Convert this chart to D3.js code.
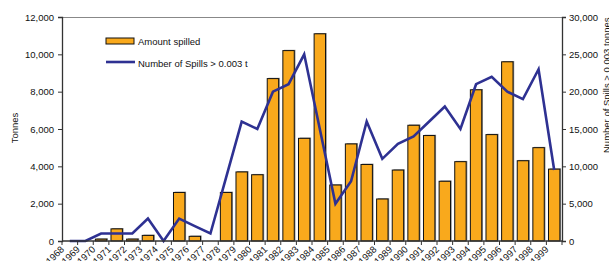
<!DOCTYPE html>
<html>
<head>
<meta charset="utf-8">
<script src="https://cdn.jsdelivr.net/npm/d3@7"></script>
<style>
	body { margin: 0; background: #fff; }
	text { font-family: "Liberation Sans", Arial, sans-serif; font-size: 9.5px; fill: #111; }
</style>
</head>
<body>
<svg id="chart" width="609" height="261"></svg>
<script>
// years on the x axis
var years = [1968, 1969, 1970, 1971, 1972, 1973, 1974, 1975, 1976, 1977,
	1978, 1979, 1980, 1981, 1982, 1983, 1984, 1985, 1986, 1987,
	1988, 1989, 1990, 1991, 1992, 1993, 1994, 1995, 1996, 1997,
	1998, 1999];

// tonnes spilled (left axis)
var amountSpilled = [0, 0, 100, 650, 100, 300, 0, 2600, 250, 0,
	2600, 3700, 3550, 8700, 10200, 5500, 11100, 3000, 5200, 4100,
	2250, 3800, 6200, 5650, 3200, 4250, 8100, 5700, 9600, 4300,
	5000, 3850];

// number of spills > 0.003 t (right axis)
var spillCount = [0, 0, 1000, 1000, 1000, 3000, 0, 3000, 2000, 1000,
	8500, 16000, 15000, 20000, 21000, 25000, 15000, 5000, 8000, 16000,
	11000, 13000, 14000, 16000, 18000, 15000, 21000, 22000, 20000, 19000,
	23000, 9500];

var leftTicks = [0, 2000, 4000, 6000, 8000, 10000, 12000];
var rightTicks = [0, 5000, 10000, 15000, 20000, 25000, 30000];

var svg = d3.select('#chart'),
	plotLeft = 62, plotRight = 562, plotTop = 17, plotBottom = 241;

var x = d3.scaleBand()
	.domain(years)
	.range([plotLeft, plotRight])
	.paddingInner(0.27)
	.paddingOuter(0.135);

var step = x.step();

var yLeft = d3.scaleLinear().domain([0, 12000]).range([plotBottom, plotTop]);
var yRight = d3.scaleLinear().domain([0, 30000]).range([plotBottom, plotTop]);

var fmt = d3.format(',');

// top border of plot area
svg.append('line')
	.attr('x1', plotLeft).attr('x2', plotRight)
	.attr('y1', plotTop + 0.5).attr('y2', plotTop + 0.5)
	.attr('stroke', '#888').attr('stroke-width', 1);

// bars: shadow then body
var bars = svg.append('g');
bars.selectAll('rect.shadow')
	.data(years)
	.enter().append('rect')
	.attr('class', 'shadow')
	.attr('x', function(d) { return x(d) + 1.2; })
	.attr('y', function(d, i) { return yLeft(amountSpilled[i]) - 0.8; })
	.attr('width', x.bandwidth())
	.attr('height', function(d, i) { return amountSpilled[i] ? plotBottom - yLeft(amountSpilled[i]) : 0; })
	.attr('fill', '#8c8c8c');

bars.selectAll('rect.bar')
	.data(years)
	.enter().append('rect')
	.attr('class', 'bar')
	.attr('x', function(d) { return x(d); })
	.attr('y', function(d, i) { return yLeft(amountSpilled[i]); })
	.attr('width', x.bandwidth())
	.attr('height', function(d, i) { return amountSpilled[i] ? plotBottom - yLeft(amountSpilled[i]) : 0; })
	.attr('fill', '#F9A91C')
	.attr('stroke', function(d, i) { return amountSpilled[i] ? '#111' : 'none'; })
	.attr('stroke-width', 1);

// line of spill counts
var line = d3.line()
	.x(function(d, i) { return x(years[i]) + x.bandwidth() / 2; })
	.y(function(d) { return yRight(d); });

svg.append('path')
	.datum(spillCount)
	.attr('d', line)
	.attr('fill', 'none')
	.attr('stroke', '#2E3192')
	.attr('stroke-width', 2.6)
	.attr('stroke-linejoin', 'miter');

// left axis
var gl = svg.append('g').attr('transform', 'translate(' + plotLeft + ',0)')
	.call(d3.axisLeft(yLeft).tickValues(leftTicks).tickFormat(fmt).tickSize(4).tickPadding(4));

// right axis
var gr = svg.append('g').attr('transform', 'translate(' + plotRight + ',0)')
	.call(d3.axisRight(yRight).tickValues(rightTicks).tickFormat(fmt).tickSize(4).tickPadding(3));

[gl, gr].forEach(function (g) {
	g.select('.domain').attr('stroke', '#333').attr('stroke-width', 1.3);
	g.selectAll('.tick line').attr('stroke', '#333');
	g.selectAll('.tick text').style('font-size', '9.5px').attr('fill', '#111');
});

// x axis line and boundary ticks
var gx = svg.append('g');
gx.append('line')
	.attr('x1', plotLeft).attr('x2', plotRight)
	.attr('y1', plotBottom).attr('y2', plotBottom)
	.attr('stroke', '#333').attr('stroke-width', 1.3);

gx.selectAll('line.tk')
	.data(years.concat(['end']))
	.enter().append('line')
	.attr('class', 'tk')
	.attr('x1', function(d, i) { return plotLeft + i * step; })
	.attr('x2', function(d, i) { return plotLeft + i * step; })
	.attr('y1', plotBottom).attr('y2', plotBottom + 4)
	.attr('stroke', '#333');

gx.selectAll('text')
	.data(years)
	.enter().append('text')
	.attr('text-anchor', 'end')
	.attr('transform', function(d) {
		return 'translate(' + (x(d) + x.bandwidth() / 2 - 5) + ',' + (plotBottom + 9) + ') rotate(-45)';
	})
	.text(function(d) { return d; });

// axis titles
svg.append('text')
	.attr('text-anchor', 'middle')
	.attr('transform', 'translate(18,128) rotate(-90)')
	.text('Tonnes');

svg.append('text')
	.attr('text-anchor', 'start')
	.attr('transform', 'translate(610,153) rotate(-90)')
	.text('Number of Spills > 0.003 tonnes');

// legend
var lg = svg.append('g');
lg.append('rect')
	.attr('x', 106).attr('y', 38).attr('width', 28).attr('height', 6)
	.attr('fill', '#F9A91C').attr('stroke', '#111').attr('stroke-width', 1);
lg.append('text').attr('x', 138).attr('y', 44.5).text('Amount spilled');

lg.append('line')
	.attr('x1', 106).attr('x2', 135).attr('y1', 62).attr('y2', 62)
	.attr('stroke', '#2E3192').attr('stroke-width', 2.6);
lg.append('text').attr('x', 138).attr('y', 66.5).text('Number of Spills > 0.003 t');
</script>
</body>
</html>
